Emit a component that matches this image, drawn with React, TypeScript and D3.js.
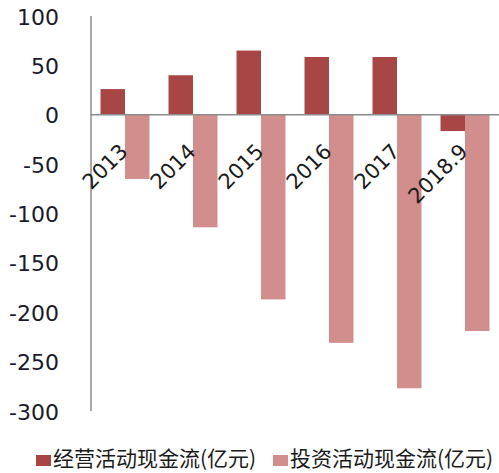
import React from "react";
import * as d3 from "d3";

const categories = ["2013", "2014", "2015", "2016", "2017", "2018.9"];
const operatingCF = [26, 40, 65, 58.5, 58.5, -16.5];
const investingCF = [-65, -114, -187, -231, -277, -219];
const seriesNames = ["经营活动现金流(亿元)", "投资活动现金流(亿元)"];
const yTicks = [100, 50, 0, -50, -100, -150, -200, -250, -300];

const W = 499;
const H = 473;
const colors = ["#A84646", "#D28D8D"];

export default function App() {
  const x = d3.scaleBand<string>().domain(categories).range([91, 499]).paddingInner(0.28).paddingOuter(0.14);
  const xs = d3.scaleBand<number>().domain([0, 1]).range([0, x.bandwidth()]);
  const y = d3.scaleLinear().domain([-300, 100]).range([411, 16]);
  const series = [operatingCF, investingCF];
  const y0 = y(0);
  const tickFont = "'DejaVu Sans', sans-serif";
  return (
    <svg width={W} height={H} style={{ position: "absolute", left: 0, top: 0, background: "#fff" }}>
      {series.map((vals, si) =>
        vals.map((v, i) => {
          const bx = (x(categories[i]) as number) + (xs(si) as number);
          return (
            <rect
              key={`${si}-${i}`}
              x={bx}
              y={Math.min(y(v), y0)}
              width={xs.bandwidth()}
              height={Math.abs(y(v) - y0)}
              fill={colors[si]}
            />
          );
        })
      )}
      <line x1={91} x2={91} y1={16} y2={411} stroke="#8c8c8c" strokeWidth={1.5} />
      <line x1={91} x2={499} y1={y0} y2={y0} stroke="#8c8c8c" strokeWidth={1.5} />
      {yTicks.map((t) => (
        <text key={t} x={59} y={y(t) + 1} textAnchor="end" dominantBaseline="central" fontFamily={tickFont} fontSize={22} fill="#1a1a2a">
          {t}
        </text>
      ))}
      {categories.map((c) => {
        const cx = (x(c) as number) + x.bandwidth() / 2 + 4;
        const cy = y0 + 38;
        return (
          <text key={c} x={cx} y={cy} textAnchor="end" transform={`rotate(-45 ${cx} ${cy})`} fontFamily={tickFont} fontSize={21} fill="#1a1a1a">
            {c}
          </text>
        );
      })}
      {seriesNames.map((n, i) => {
        const lx = i === 0 ? 36 : 273;
        return (
          <g key={n}>
            <rect x={lx} y={455} width={15} height={11} fill={colors[i]} />
            <text x={lx + 17} y={466} fontFamily="'Noto Sans CJK SC', sans-serif" fontSize={21} fill="#1a1a1a">
              {n}
            </text>
          </g>
        );
      })}
    </svg>
  );
}
